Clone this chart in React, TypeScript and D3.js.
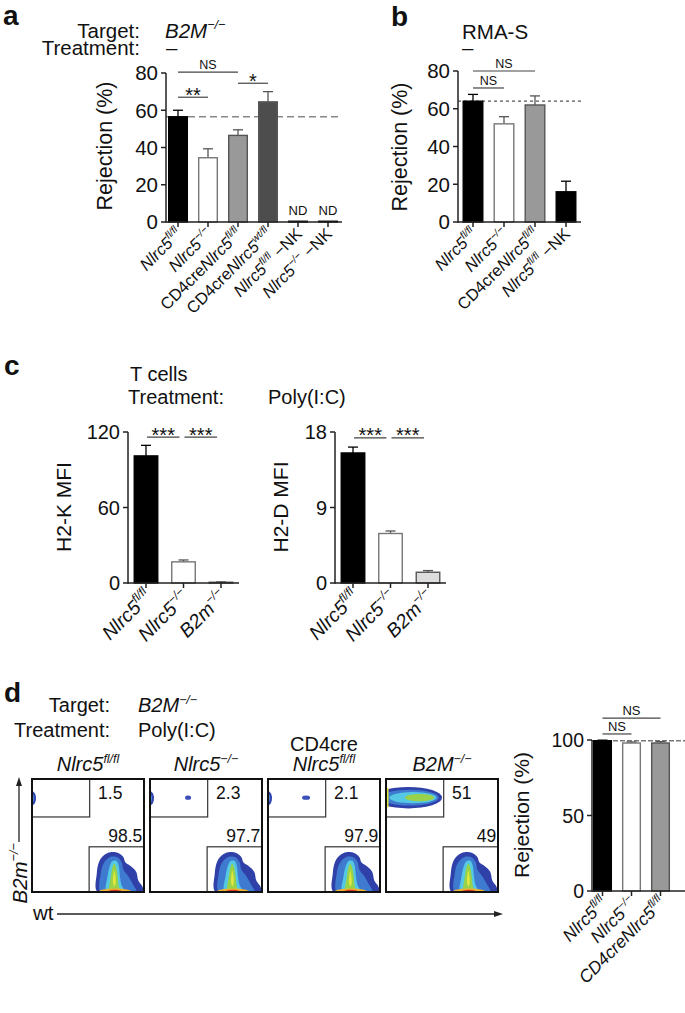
import React from "react";
import * as d3 from "d3";

const FONT = "'Liberation Sans', Arial, Helvetica, sans-serif";
const W = 685;
const H = 1013;

// ---------- Panel a data ----------
const aCategories = ["_Nlrc5^fl/fl^_", "_Nlrc5^−/−^_", "CD4cre_Nlrc5^fl/fl^_", "CD4cre_Nlrc5^wt/fl^_", "_Nlrc5^fl/fl^_ −NK", "_Nlrc5^−/−^_ −NK"];
const aValues = [56.5, 34.5, 46.5, 64.5, 0.4, 0.4];
const aErrors = [3.5, 4.8, 3.0, 5.5, 0, 0];
const aNotes = ["", "", "", "", "ND", "ND"];
const aTicks = [0, 20, 40, 60, 80];
const aRef = 56.5;
const aSig = [
  { from: 0, to: 2, level: 80.5, text: "NS" },
  { from: 0, to: 1, level: 67, text: "**" },
  { from: 2, to: 3, level: 74.5, text: "*" },
];

// ---------- Panel b data ----------
const bCategories = ["_Nlrc5^fl/fl^_", "_Nlrc5^−/−^_", "CD4cre_Nlrc5^fl/fl^_", "_Nlrc5^fl/fl^_ −NK"];
const bValues = [64, 52, 62, 16];
const bErrors = [3.6, 3.8, 4.8, 5.6];
const bTicks = [0, 20, 40, 60, 80];
const bRef = 64;
const bSig = [
  { from: 0, to: 2, level: 80, text: "NS" },
  { from: 0, to: 1, level: 71, text: "NS" },
];

// ---------- Panel c data ----------
const cCategories = ["_Nlrc5^fl/fl^_", "_Nlrc5^−/−^_", "_B2m^−/−^_"];
const cKValues = [101, 16.8, 0.6];
const cKErrors = [8.4, 1.5, 0.3];
const cKTicks = [0, 60, 120];
const cKSig = [
  { from: 0, to: 1, level: 116, text: "***" },
  { from: 1, to: 2, level: 116, text: "***" },
];
const cDValues = [15.5, 5.9, 1.28];
const cDErrors = [0.7, 0.3, 0.2];
const cDTicks = [0, 9, 18];
const cDSig = [
  { from: 0, to: 1, level: 17.3, text: "***" },
  { from: 1, to: 2, level: 17.3, text: "***" },
];

// ---------- Panel d data ----------
const dFlowTitles = ["_Nlrc5^fl/fl^_", "_Nlrc5^−/−^_", "_Nlrc5^fl/fl^_", "_B2M^−/−^_"];
const dFlowPrefix = ["", "", "CD4cre", ""];
const dFlowUpper = ["1.5", "2.3", "2.1", "51"];
const dFlowLower = ["98.5", "97.7", "97.9", "49"];
const dCategories = ["_Nlrc5^fl/fl^_", "_Nlrc5^−/−^_", "_CD4creNlrc5^fl/fl^_"];
const dValues = [99.5, 98, 98];
const dErrors = [0.4, 0.7, 0.9];
const dTicks = [0, 50, 100];
const dRef = 99.5;
const dSig = [
  { from: 0, to: 2, level: 114.5, text: "NS" },
  { from: 0, to: 1, level: 104, text: "NS" },
];

// ---------- palettes (styles) ----------
const aFill = ["#000", "#fff", "#999", "#4d4d4d", "#000", "#000"];
const bFill = ["#000", "#fff", "#999", "#000"];
const cFill = ["#000", "#fff", "#ddd"];
const dFill = ["#000", "#fff", "#999"];

type Seg = { text: string; italic: boolean; sup: boolean };
function parseRich(s: string): Seg[] {
  const segs: Seg[] = [];
  let italic = false;
  let sup = false;
  let cur = "";
  const push = () => {
    if (cur) segs.push({ text: cur, italic, sup });
    cur = "";
  };
  for (const ch of s) {
    if (ch === "_") {
      push();
      italic = !italic;
    } else if (ch === "^") {
      push();
      sup = !sup;
    } else cur += ch;
  }
  push();
  return segs;
}

function Rich({ s, size, supScale = 0.62, supShift = 0.42 }: { s: string; size: number; supScale?: number; supShift?: number }) {
  const segs = parseRich(s);
  let prevSup = false;
  return (
    <>
      {segs.map((g, i) => {
        let dy = 0;
        if (g.sup && !prevSup) dy = -supShift * size;
        if (!g.sup && prevSup) dy = supShift * size;
        prevSup = g.sup;
        return (
          <tspan key={i} dy={dy || undefined} fontStyle={g.italic ? "italic" : "normal"} fontSize={g.sup ? size * supScale : size}>
            {g.text}
          </tspan>
        );
      })}
    </>
  );
}

type Sig = { from: number; to: number; level: number; text: string };
type BarProps = {
  cats: string[];
  values: number[];
  errors: number[];
  fills: string[];
  xRange: [number, number];
  pad: number;
  axisX: number;
  axisEnd: number;
  yDomain: [number, number];
  yRange: [number, number];
  ticks: number[];
  tickFont: number;
  yLabel: string;
  yLabelX: number;
  yLabelY: number;
  yLabelFont: number;
  xLabelFont: number;
  xLabelDx: number;
  xLabelDy: number;
  refValue?: number;
  refEnd?: number;
  refDash?: string;
  refColor?: string;
  sig?: Sig[];
  sigShrink?: [number, number];
  notes?: string[];
  nsFont?: number;
};

function BarChart(p: BarProps) {
  const idx = p.cats.map((_, i) => i);
  const x = d3.scaleBand<number>().domain(idx).range(p.xRange).paddingInner(p.pad).paddingOuter(p.pad / 2);
  const y = d3.scaleLinear().domain(p.yDomain).range(p.yRange);
  const bw = x.bandwidth();
  const cx = (i: number) => (x(i) as number) + bw / 2;
  const y0 = y(0);
  const yTop = y(p.yDomain[1]);
  const shrink = p.sigShrink || [0, 0];
  return (
    <g fontFamily={FONT}>
      {p.refValue !== undefined && (
        <line x1={p.axisX} x2={p.refEnd} y1={y(p.refValue)} y2={y(p.refValue)} stroke={p.refColor || "#777"} strokeWidth={1.3} strokeDasharray={p.refDash || "6,4"} />
      )}
      {idx.map((i) => {
        const v = p.values[i];
        const e = p.errors[i];
        const fill = p.fills[i];
        const isWhite = fill === "#fff";
        const errColor = fill === "#000" ? "#000" : "#555";
        return (
          <g key={i}>
            {e > 0 && (
              <g stroke={errColor} strokeWidth={1.3}>
                <line x1={cx(i)} x2={cx(i)} y1={y(v)} y2={y(v + e)} />
                <line x1={cx(i) - 5} x2={cx(i) + 5} y1={y(v + e)} y2={y(v + e)} />
              </g>
            )}
            <rect
              x={(x(i) as number) + 0.75}
              y={y(v)}
              width={bw - 1.5}
              height={Math.max(0, y0 - y(v))}
              fill={fill}
              stroke={isWhite ? "#777" : fill === "#000" ? "#000" : "#555"}
              strokeWidth={1.4}
            />
            {p.notes && p.notes[i] && (
              <text x={cx(i)} y={y0 - 7} textAnchor="middle" fontSize={13} fill="#111">
                {p.notes[i]}
              </text>
            )}
          </g>
        );
      })}
      {/* axes */}
      <line x1={p.axisX} x2={p.axisX} y1={y0 + 0.7} y2={yTop} stroke="#222" strokeWidth={1.5} />
      <line x1={p.axisX} x2={p.axisEnd} y1={y0} y2={y0} stroke="#222" strokeWidth={1.5} />
      {p.ticks.map((t) => (
        <g key={t}>
          <line x1={p.axisX - 5} x2={p.axisX} y1={y(t)} y2={y(t)} stroke="#222" strokeWidth={1.5} />
          <text x={p.axisX - 8} y={y(t)} dy="0.36em" textAnchor="end" fontSize={p.tickFont} fill="#111">
            {t}
          </text>
        </g>
      ))}
      {idx.map((i) => (
        <line key={"xt" + i} x1={cx(i)} x2={cx(i)} y1={y0} y2={y0 + 5} stroke="#222" strokeWidth={1.5} />
      ))}
      {idx.map((i) => (
        <text key={"xl" + i} transform={`translate(${cx(i) + p.xLabelDx},${y0 + p.xLabelDy}) rotate(-45)`} textAnchor="end" fontSize={p.xLabelFont} fill="#111">
          <Rich s={p.cats[i]} size={p.xLabelFont} />
        </text>
      ))}
      <text transform={`translate(${p.yLabelX},${p.yLabelY}) rotate(-90)`} textAnchor="middle" fontSize={p.yLabelFont} fill="#111">
        {p.yLabel}
      </text>
      {(p.sig || []).map((s, k) => {
        const ly = y(s.level);
        const x1 = cx(s.from) + shrink[0];
        const x2 = cx(s.to) - shrink[1];
        const star = s.text.includes("*");
        return (
          <g key={"s" + k}>
            <line x1={x1} x2={x2} y1={ly} y2={ly} stroke="#444" strokeWidth={1.2} />
            <text x={(x1 + x2) / 2} y={star ? ly + 4.5 : ly - 3} textAnchor="middle" fontSize={star ? 20 : p.nsFont || 12.5} fill="#111">
              {s.text}
            </text>
          </g>
        );
      })}
    </g>
  );
}

type Pt = [number, number];
const lowerOuter: Pt[] = [[0.585, 1.0], [0.578, 0.84], [0.6, 0.73], [0.645, 0.672], [0.7, 0.648], [0.77, 0.655], [0.815, 0.69], [0.835, 0.74], [0.88, 0.77], [0.93, 0.82], [0.95, 0.9], [0.985, 0.95], [0.99, 1.0]];
const lowerMid: Pt[] = [[0.615, 1.0], [0.612, 0.85], [0.64, 0.745], [0.7, 0.69], [0.765, 0.695], [0.8, 0.735], [0.815, 0.8], [0.86, 0.86], [0.9, 0.93], [0.93, 1.0]];
const lowerCyan: Pt[] = [[0.665, 1.0], [0.675, 0.86], [0.695, 0.77], [0.72, 0.725], [0.755, 0.725], [0.775, 0.77], [0.785, 0.86], [0.8, 0.94], [0.83, 1.0]];
const lowerGreen: Pt[] = [[0.695, 1.0], [0.705, 0.86], [0.718, 0.785], [0.735, 0.75], [0.752, 0.785], [0.765, 0.86], [0.775, 0.95], [0.79, 1.0]];
const lowerYellow: Pt[] = [[0.724, 0.92], [0.727, 0.85], [0.735, 0.81], [0.743, 0.85], [0.747, 0.92], [0.736, 0.95]];

function FlowPlots() {
  const band = d3.scaleBand<number>().domain([0, 1, 2, 3]).range([32, 498]).paddingInner(0.051);
  const top = 779;
  const size = 113;
  return (
    <g fontFamily={FONT}>
      <defs>
        {[0, 1, 2, 3].map((i) => (
          <clipPath id={`fclip${i}`} key={i}>
            <rect x={band(i) as number} y={top} width={band.bandwidth()} height={size} />
          </clipPath>
        ))}
      </defs>
      {[0, 1, 2, 3].map((i) => {
        const x0 = band(i) as number;
        const w = band.bandwidth();
        const sx = d3.scaleLinear().domain([0, 1]).range([x0, x0 + w]);
        const sy = d3.scaleLinear().domain([0, 1]).range([top, top + size]);
        const line = d3
          .line<Pt>()
          .x((d) => sx(d[0]))
          .y((d) => sy(d[1]))
          .curve(d3.curveCatmullRomClosed.alpha(0.5));
        const cxm = sx(0.5);
        return (
          <g key={i}>
            {dFlowPrefix[i] && (
              <text x={cxm} y={751} textAnchor="middle" fontSize={20} fill="#111">
                {dFlowPrefix[i]}
              </text>
            )}
            <text x={cxm} y={771} textAnchor="middle" fontSize={20} fill="#111">
              <Rich s={dFlowTitles[i]} size={20} />
            </text>
            <g clipPath={`url(#fclip${i})`}>
              {/* lower-right population */}
              <path d={line(lowerOuter) || ""} fill="#2f41a8" />
              <path d={line(lowerMid) || ""} fill="#3e7bd0" />
              <path d={line(lowerCyan) || ""} fill="#55c8e4" />
              <path d={line(lowerGreen) || ""} fill="#98d24a" />
              <path d={line(lowerYellow) || ""} fill="#e4e83e" />
              <ellipse cx={sx(0.74)} cy={sy(1)} rx={0.15 * w} ry={3.5} fill="#f0b034" />
              <ellipse cx={sx(0.74)} cy={sy(1)} rx={0.07 * w} ry={2.2} fill="#d5361f" />
              {/* upper-left population */}
              {i < 3 ? (
                <>
                  <ellipse cx={sx(0)} cy={sy(0.17)} rx={4} ry={7} fill="#3446b0" />
                  <ellipse cx={sx(0)} cy={sy(0.17)} rx={1.8} ry={4} fill="#4f9ee0" />
                  {i > 0 && <ellipse cx={sx(0.34)} cy={sy(0.165)} rx={i === 2 ? 4 : 3} ry={2.2} fill="#3a4fb8" />}
                </>
              ) : (
                <>
                  <ellipse cx={sx(0.2)} cy={sy(0.165)} rx={0.3 * w} ry={0.095 * size} fill="#2f41a8" />
                  <ellipse cx={sx(0.21)} cy={sy(0.165)} rx={0.26 * w} ry={0.07 * size} fill="#3e7bd0" />
                  <ellipse cx={sx(0.24)} cy={sy(0.165)} rx={0.21 * w} ry={0.05 * size} fill="#55c8e4" />
                  <ellipse cx={sx(0.3)} cy={sy(0.165)} rx={0.13 * w} ry={0.032 * size} fill="#98d24a" />
                  <rect x={sx(0)} y={sy(0.08)} width={2.5} height={0.17 * size} fill="#e4e83e" />
                </>
              )}
            </g>
            {/* gates */}
            <rect x={sx(0)} y={sy(0)} width={sx(0.515) - sx(0)} height={sy(0.336) - sy(0)} fill="none" stroke="#333" strokeWidth={1.2} />
            <rect x={sx(0.51)} y={sy(0.6)} width={sx(1) - sx(0.51)} height={sy(1) - sy(0.6)} fill="none" stroke="#333" strokeWidth={1.2} />
            <rect x={x0} y={top} width={w} height={size} fill="none" stroke="#111" strokeWidth={2} />
            <text x={sx(0.59)} y={sy(0.175)} fontSize={17.5} fill="#111">
              {dFlowUpper[i]}
            </text>
            <text x={sx(0.985)} y={sy(0.56)} textAnchor="end" fontSize={17.5} fill="#111">
              {dFlowLower[i]}
            </text>
          </g>
        );
      })}
      {/* axes arrows */}
      <line x1={19} x2={19} y1={842} y2={784} stroke="#222" strokeWidth={1.3} />
      <path d="M19,777 L16,786 L22,786 Z" fill="#222" />
      <text transform="translate(27,843) rotate(-90)" textAnchor="end" fontSize={20.5} fill="#111">
        <Rich s="_B2m^−/−^_" size={20.5} />
      </text>
      <text x={33} y={920} fontSize={20.5} fill="#111">
        wt
      </text>
      <line x1={57} x2={496} y1={914} y2={914} stroke="#222" strokeWidth={1.3} />
      <path d="M503,914 L494,911 L494,917 Z" fill="#222" />
    </g>
  );
}

export default function App() {
  return (
    <svg width={W} height={H} viewBox={`0 0 ${W} ${H}`} style={{ position: "absolute", left: 0, top: 0, background: "#fff" }} fontFamily={FONT}>
      <rect x={0} y={0} width={W} height={H} fill="#fff" />
      {/* Panel a header */}
      <text x={3} y={25} fontSize={28} fontWeight="bold" fill="#111">a</text>
      <text x={140} y={38} textAnchor="end" fontSize={20.5} fill="#111">Target:</text>
      <text x={165} y={38} fontSize={20.5} fill="#111">
        <Rich s="_B2M^−/−^_" size={20.5} />
      </text>
      <text x={140} y={55} textAnchor="end" fontSize={20.5} fill="#111">Treatment:</text>
      <text x={166} y={55} fontSize={20.5} fill="#111">–</text>

      <BarChart
        cats={aCategories}
        values={aValues}
        errors={aErrors}
        fills={aFill}
        notes={aNotes}
        xRange={[163, 343]}
        pad={0.33}
        axisX={166}
        axisEnd={342}
        yDomain={[0, 80]}
        yRange={[222, 73]}
        ticks={aTicks}
        tickFont={20.5}
        yLabel="Rejection (%)"
        yLabelX={112}
        yLabelY={146}
        yLabelFont={21.5}
        xLabelFont={16.5}
        xLabelDx={5}
        xLabelDy={13}
        refValue={aRef}
        refEnd={342}
        refDash="7,4"
        refColor="#888"
        sig={aSig}
      />

      {/* Panel b header */}
      <text x={391} y={26} fontSize={28} fontWeight="bold" fill="#111">b</text>
      <text x={462} y={39} fontSize={20.5} fill="#111">RMA-S</text>
      <text x={462} y={55} fontSize={20.5} fill="#111">–</text>

      <BarChart
        cats={bCategories}
        values={bValues}
        errors={bErrors}
        fills={bFill}
        xRange={[457.5, 581.5]}
        pad={0.32}
        axisX={458}
        axisEnd={581}
        yDomain={[0, 80]}
        yRange={[222, 71]}
        ticks={bTicks}
        tickFont={20.5}
        yLabel="Rejection (%)"
        yLabelX={407}
        yLabelY={147}
        yLabelFont={21.5}
        xLabelFont={16.5}
        xLabelDx={5}
        xLabelDy={13}
        refValue={bRef}
        refEnd={583}
        refDash="3,3"
        refColor="#555"
        sig={bSig}
      />

      {/* Panel c header */}
      <text x={4} y={375} fontSize={28} fontWeight="bold" fill="#111">c</text>
      <text x={130} y={381} fontSize={20} fill="#111">T cells</text>
      <text x={128} y={404} fontSize={20} fill="#111">Treatment:</text>
      <text x={268} y={404} fontSize={20} fill="#111">Poly(I:C)</text>

      <BarChart
        cats={cCategories}
        values={cKValues}
        errors={cKErrors}
        fills={cFill}
        xRange={[127.25, 239.75]}
        pad={0.333}
        axisX={128}
        axisEnd={239}
        yDomain={[0, 120]}
        yRange={[583, 432]}
        ticks={cKTicks}
        tickFont={20}
        yLabel="H2-K MFI"
        yLabelX={71}
        yLabelY={507}
        yLabelFont={21}
        xLabelFont={19.5}
        xLabelDx={7}
        xLabelDy={15}
        sig={cKSig}
        sigShrink={[1, 4]}
      />
      <BarChart
        cats={cCategories}
        values={cDValues}
        errors={cDErrors}
        fills={cFill}
        xRange={[334.25, 446.75]}
        pad={0.333}
        axisX={335}
        axisEnd={446}
        yDomain={[0, 18]}
        yRange={[583, 432]}
        ticks={cDTicks}
        tickFont={20}
        yLabel="H2-D MFI"
        yLabelX={288}
        yLabelY={507}
        yLabelFont={21}
        xLabelFont={19.5}
        xLabelDx={7}
        xLabelDy={15}
        sig={cDSig}
        sigShrink={[1, 4]}
      />

      {/* Panel d header */}
      <text x={4} y={702} fontSize={28} fontWeight="bold" fill="#111">d</text>
      <text x={110} y={712} textAnchor="end" fontSize={20} fill="#111">Target:</text>
      <text x={138} y={712} fontSize={20} fill="#111">
        <Rich s="_B2M^−/−^_" size={20} />
      </text>
      <text x={110} y={737} textAnchor="end" fontSize={20} fill="#111">Treatment:</text>
      <text x={138} y={737} fontSize={20} fill="#111">Poly(I:C)</text>

      <FlowPlots />

      <BarChart
        cats={dCategories}
        values={dValues}
        errors={dErrors}
        fills={dFill}
        xRange={[588, 675]}
        pad={0.34}
        axisX={592}
        axisEnd={685}
        yDomain={[0, 100]}
        yRange={[891, 740]}
        ticks={dTicks}
        tickFont={19.5}
        yLabel="Rejection (%)"
        yLabelX={529}
        yLabelY={815}
        yLabelFont={21}
        xLabelFont={17.5}
        xLabelDx={6}
        xLabelDy={13}
        refValue={dRef}
        refEnd={685}
        refDash="5,2"
        refColor="#777"
        sig={dSig}
        nsFont={13}
      />
    </svg>
  );
}
